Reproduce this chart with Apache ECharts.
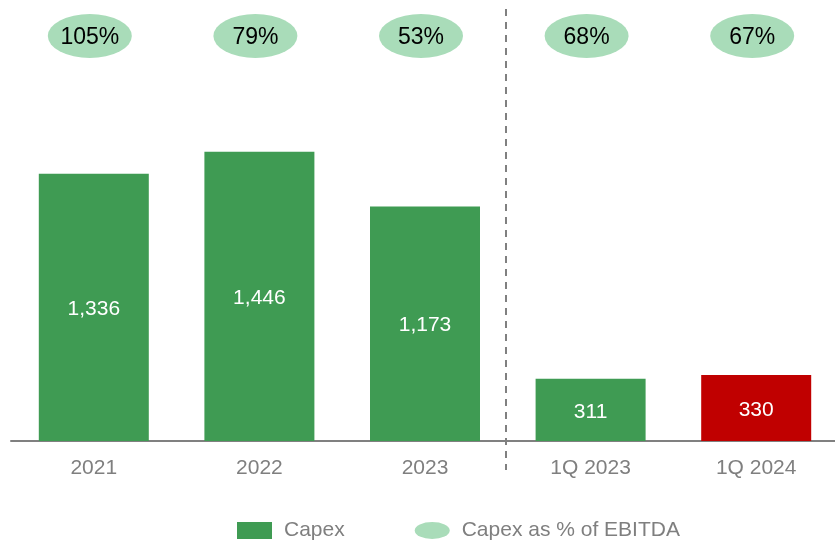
<!DOCTYPE html>
<html>
<head>
<meta charset="utf-8">
<script src="https://cdn.jsdelivr.net/npm/echarts@6/dist/echarts.min.js"></script>
<style>
  html, body { margin: 0; padding: 0; background: #fff; overflow: hidden; }
  /* slightly wider than the viewport: the source chart's plot runs off the right edge */
  #main { width: 839px; height: 542px; }
</style>
</head>
<body>
<div id="main"></div>
<script>
var categories = ['2021', '2022', '2023', '1Q 2023', '1Q 2024']
var capex = [1336, 1446, 1173, 311, 330]
var capexPct = [105, 79, 53, 68, 67]
var barColors = ['#3f9b53', '#3f9b53', '#3f9b53', '#3f9b53', '#c00000']

var font = '"Liberation Sans", Arial, sans-serif'
var myChart = echarts.init(document.getElementById('main'))

var option = {
  backgroundColor: '#ffffff',
  animation: false,
  legend: {
    left: 237,
    top: 520,
    padding: 0,
    itemWidth: 35,
    itemHeight: 17,
    itemGap: 70,
    textStyle: { color: '#7f7f7f', fontSize: 21, fontFamily: font, padding: [0, 0, 0, 7] },
    data: [
      { name: 'Capex', icon: 'rect' },
      { name: 'Capex as % of EBITDA', icon: 'path://M0,8.5a17.5,8.5 0 1,0 35,0a17.5,8.5 0 1,0 -35,0z' }
    ]
  },
  grid: { left: 11, right: 0, top: 41, bottom: 101, containLabel: false },
  xAxis: {
    type: 'category',
    data: categories,
    axisLine: { lineStyle: { color: '#808080', width: 2 } },
    axisTick: { show: false },
    axisLabel: { color: '#7f7f7f', fontSize: 21, fontFamily: font, margin: 17 }
  },
  yAxis: [
    { type: 'value', min: 0, max: 2000, show: false },
    // hidden helper axis to park the percentage bubbles in a row above the bars
    { type: 'value', min: 0, max: 1, show: false }
  ],
  series: [
    {
      name: 'Capex',
      type: 'bar',
      barWidth: 110,
      itemStyle: { color: '#3f9b53' },
      data: capex.map(function (v, i) {
        return { value: v, itemStyle: { color: barColors[i] } }
      }),
      label: {
        show: true,
        position: 'inside',
        offset: [0, 2],
        color: '#ffffff',
        fontSize: 21,
        fontFamily: font,
        formatter: function (p) {
          return p.value.toLocaleString('en-US')
        }
      }
    },
    {
      name: 'Capex as % of EBITDA',
      type: 'scatter',
      yAxisIndex: 1,
      clip: false,
      symbol: 'circle',
      symbolSize: [84, 44],
      symbolOffset: [-4, 0],
      itemStyle: { color: '#a9dcb9', opacity: 1 },
      data: capexPct.map(function (v, i) {
        return { value: [categories[i], 1.0125], pct: v }
      }),
      label: {
        show: true,
        position: 'inside',
        offset: [0, 2],
        color: '#000000',
        fontSize: 23,
        fontFamily: font,
        formatter: function (p) {
          return p.data.pct + '%'
        }
      },
      z: 3
    }
  ]
}
myChart.setOption(option)

// dashed divider between the annual and quarterly groups
var xA = myChart.convertToPixel({ xAxisIndex: 0 }, categories[2])
var xB = myChart.convertToPixel({ xAxisIndex: 0 }, categories[3])
var xMid = Math.floor((xA + xB) / 2) - 1
myChart.setOption({
  graphic: [{
    type: 'line',
    shape: { x1: xMid, y1: 9, x2: xMid, y2: 470 },
    style: { stroke: '#808080', lineWidth: 2, lineDash: [7, 6] },
    z: 10
  }]
})
window.onresize = myChart.resize
</script>
</body>
</html>
